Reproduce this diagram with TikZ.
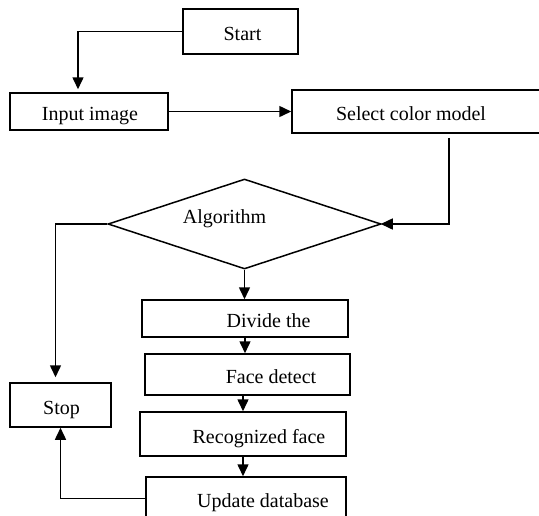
\documentclass[tikz,border=0pt]{standalone}
\usepackage{fontspec}
\setmainfont{Liberation Serif}
\usepackage{tikz}
\usetikzlibrary{
	arrows.meta,
	calc,
	positioning,
	shapes.geometric
}
\tikzset{every path/.append style={line width=1.5pt}}
\tikzset{every path/.append style={>={Triangle[length=12pt,width=11pt]}}}
\tikzset{
	flowbox/.style={draw,rectangle,inner sep=0pt,text height=18pt,text depth=0pt,font=\fontsize{20}{23}\selectfont},
	decision/.style={draw,diamond,inner sep=0pt,font=\fontsize{20}{23}\selectfont}
}
\newcommand{\flowBox}[5][]{\node (#3) at #2 [flowbox,minimum width=#4,#1]{#5};}

\begin{document}
\begin{tikzpicture}[x=1pt,y=-1pt]
					\useasboundingbox (0,0) rectangle (539,515);
					
					\flowBox[minimum height=45pt]{(240.5,31.5)}{start}{115pt}{\hspace*{4pt}Start}
					\flowBox[minimum height=37pt]{(89,111.5)}{input}{158pt}{\hspace*{2pt}Input image}
					\flowBox[minimum height=43pt]{(426,111.5)}{select}{268pt}{Select color model\hspace*{30pt}}
					
					\node (algo) at (244.5,224) [decision,minimum width=273pt,minimum height=90pt,
						label={[font=\fontsize{20}{23}\selectfont,xshift=-20pt,yshift=5pt]center:Algorithm}]{};
					
					\flowBox[minimum height=37pt]{(245,318.5)}{divide}{206pt}{\hspace*{47pt}Divide the}
					\flowBox[minimum height=41pt]{(247.5,374.5)}{face}{205pt}{\hspace*{47pt}Face detect}
					\flowBox[minimum height=44pt]{(243,434)}{recog}{206pt}{\hspace*{32pt}Recognized face}
					\flowBox[minimum height=43pt]{(246,498.5)}{update}{200pt}{\hspace*{34pt}Update database}
					
					\flowBox[minimum height=44pt]{(60.5,405)}{stop}{101pt}{\hspace*{2pt}Stop}
					
					\draw[->] (start.west) -| ([xshift=-11pt,yshift=3pt]input.north);
					\draw[->] (input.east) -- (select.west);
					\draw[->] ([xshift=23pt,yshift=-4pt]select.south) |- ([xshift=-1pt]algo.east);
					\draw[->] (algo.west) -| ([xshift=-5pt,yshift=5pt]stop.north);
					\draw[->] (algo.south) -- (algo.south |- divide.north);
					\draw[->] (divide.south) -- (divide.south |- face.north);
					\draw[->] (recog.north |- face.south) -- (recog.north);
					\draw[->] (recog.south) -- (recog.south |- update.north);
					\draw[->] (update.west) -| (stop.south);
				\end{tikzpicture}
\end{document}
